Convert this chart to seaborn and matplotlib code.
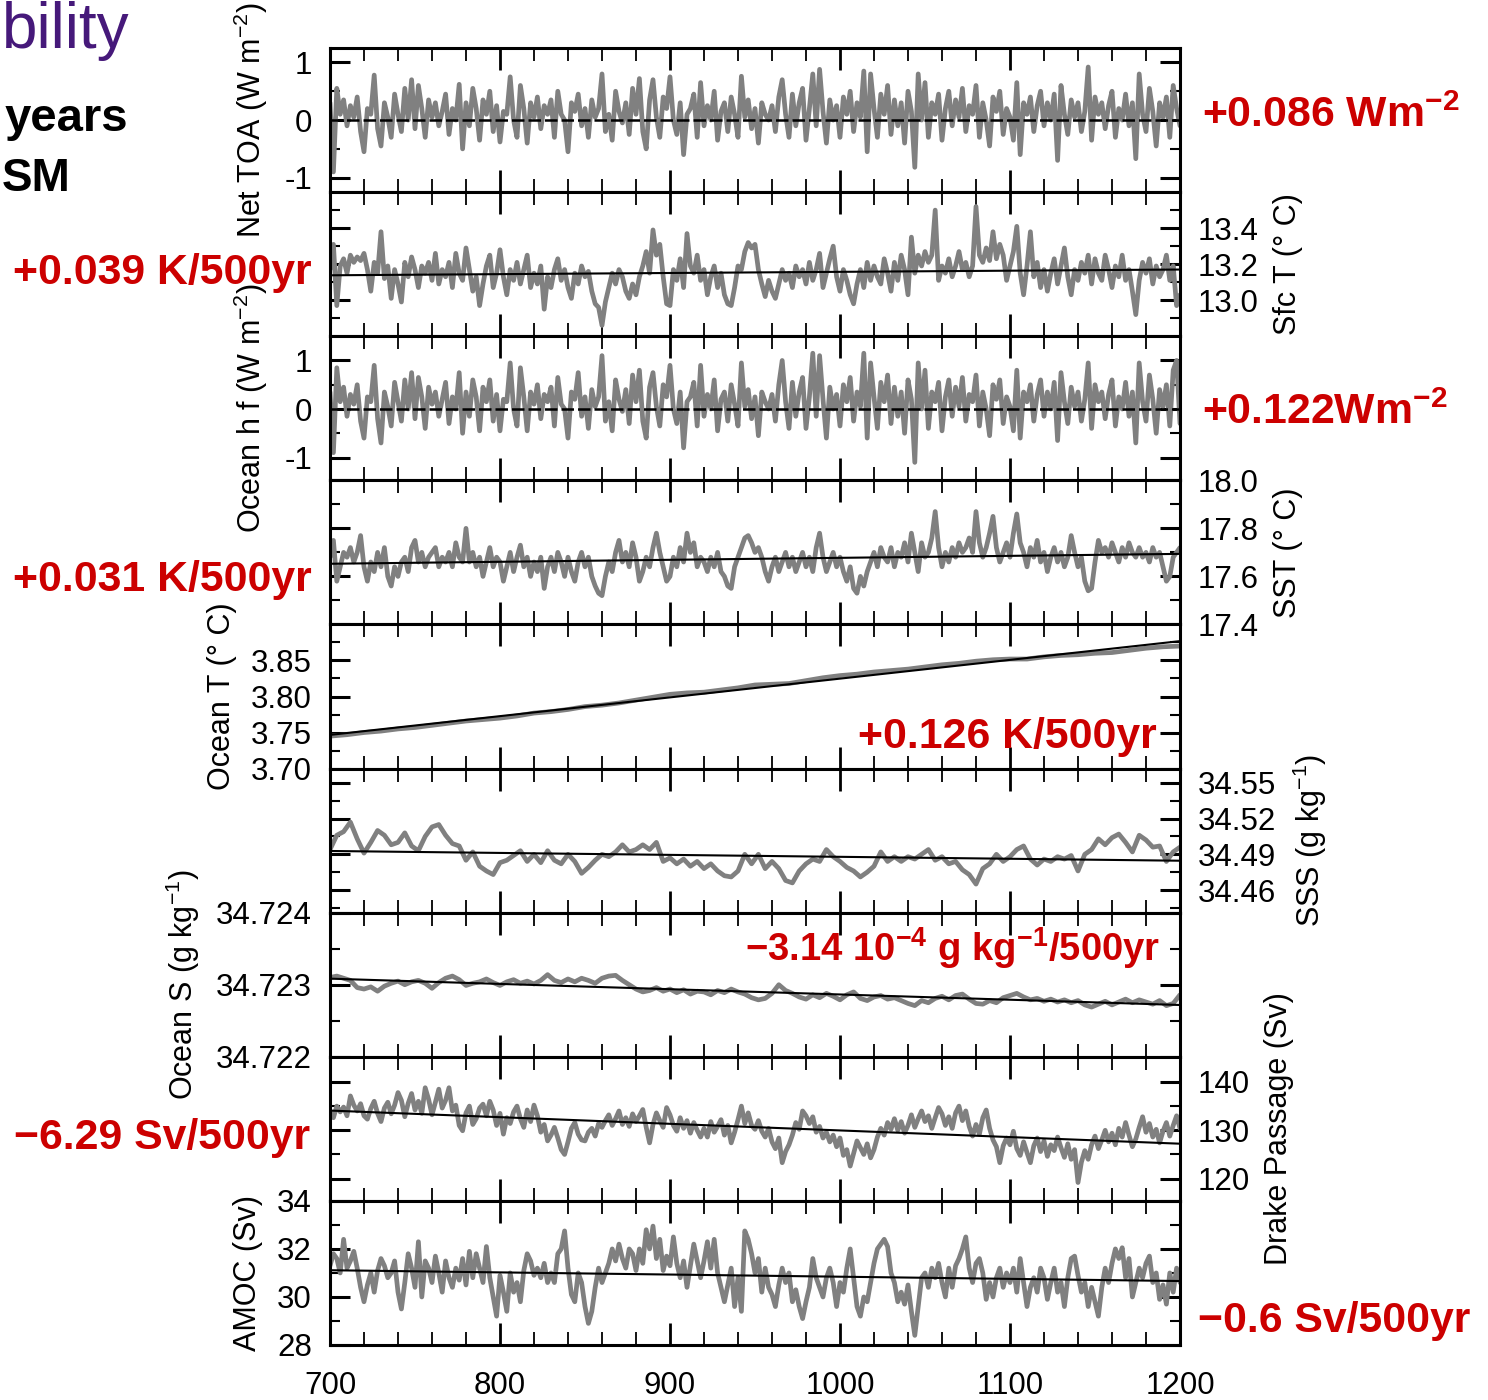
import numpy as np
import matplotlib
matplotlib.use('Agg')
import matplotlib.pyplot as plt
from matplotlib.ticker import FixedLocator, FormatStrFormatter, MultipleLocator
import seaborn as sns

# values, years 700-1200 (evenly spaced samples)
net_toa = [
    0.3, -0.9, 0.55, 0.1, 0.35, -0.1, 0.25, 0.05, 0.4, -0.2,
    -0.55, 0.2, 0.1, 0.78, -0.15, -0.45, 0.3, 0.05, -0.3, 0.45,
    0.1, -0.2, 0.55, 0.0, 0.7, -0.15, 0.6, 0.2, -0.3, 0.35,
    0.05, 0.3, -0.1, 0.15, 0.45, -0.25, 0.2, 0.0, 0.62, -0.5,
    0.3, -0.1, 0.55, 0.2, -0.35, 0.35, 0.1, 0.5, -0.2, 0.25,
    -0.38, 0.15, 0.1, 0.75, 0.0, -0.3, 0.6, 0.2, -0.4, 0.3,
    0.05, 0.4, -0.15, 0.25, 0.1, 0.35, -0.3, 0.5, 0.1, 0.0,
    -0.55, 0.3, 0.15, 0.45, -0.1, 0.2, -0.3, 0.35, 0.05, 0.2,
    0.8, -0.2, 0.1, -0.35, 0.5, 0.15, -0.05, 0.3, -0.25, 0.55,
    0.1, 0.72, -0.2, -0.5, 0.35, 0.7, 0.05, -0.3, 0.4, 0.2,
    0.75, 0.0, -0.25, 0.3, -0.6, 0.1, 0.2, 0.45, -0.3, 0.65,
    -0.1, 0.25, 0.0, 0.5, -0.35, 0.15, 0.3, -0.2, 0.4, 0.1,
    -0.3, 0.76, 0.05, 0.35, -0.15, 0.2, -0.4, 0.3, 0.1, 0.0,
    0.25, -0.2, 0.4, 0.7, 0.1, -0.3, 0.45, -0.1, 0.3, 0.55,
    -0.35, 0.2, 0.8, -0.1, 0.88, 0.15, -0.4, 0.35, 0.0, 0.25,
    -0.3, 0.4, 0.1, 0.5, -0.2, 0.3, 0.05, 0.85, -0.55, 0.8,
    0.2, -0.3, 0.45, 0.1, 0.6, -0.25, 0.35, -0.1, 0.3, -0.4,
    0.5, 0.15, -0.82, 0.8, 0.0, 0.65, -0.3, 0.3, 0.1, 0.45,
    -0.35, 0.2, 0.5, -0.1, 0.35, 0.05, 0.55, -0.2, 0.25, 0.1,
    0.6, -0.3, 0.3, 0.0, -0.45, 0.4, 0.15, 0.5, -0.25, 0.2,
    0.05, -0.35, 0.65, -0.6, 0.3, 0.1, 0.4, -0.2, 0.25, 0.5,
    -0.1, 0.3, 0.0, 0.45, -0.7, 0.6, 0.1, -0.25, 0.35, 0.05,
    0.3, -0.2, 0.15, 0.92, -0.35, 0.4, 0.1, 0.3, -0.15, 0.25,
    0.5, -0.3, 0.2, 0.0, 0.45, -0.1, 0.3, -0.67, 0.8, 0.1,
    -0.2, 0.55, 0.15, -0.45, 0.3, 0.05, 0.4, -0.3, 0.6, 0.2,
    -0.1]

sfc_t = [
    13.17, 13.31, 12.97, 13.19, 13.23, 13.15, 13.25, 13.21, 13.24, 13.22,
    13.26, 13.17, 13.05, 13.21, 13.15, 13.38, 13.12, 13.19, 13.01, 13.17,
    13.09, 12.99, 13.21, 13.13, 13.24, 13.17, 13.07, 13.19, 13.15, 13.21,
    13.11, 13.26, 13.09, 13.17, 13.13, 13.21, 13.07, 13.26, 13.15, 13.11,
    13.29, 13.17, 13.05, 13.13, 12.97, 13.09, 13.19, 13.25, 13.07, 13.15,
    13.28, 13.13, 13.03, 13.17, 13.11, 13.21, 13.09, 13.17, 13.25, 13.07,
    13.15, 13.09, 13.19, 12.95, 13.13, 13.07, 13.17, 13.23, 13.11, 13.17,
    13.07, 13.01, 13.15, 13.09, 13.19, 13.13, 13.16, 13.05, 12.98, 12.96,
    12.86, 12.99, 13.07, 13.15, 13.09, 13.17, 13.13, 13.05, 13.01, 13.09,
    13.03, 13.13, 13.19, 13.27, 13.15, 13.39, 13.25, 13.31, 13.13, 12.98,
    12.97, 13.17, 13.11, 13.23, 13.07, 13.37, 13.19, 13.15, 13.25, 13.11,
    13.17, 13.03, 13.13, 13.19, 13.07, 13.15, 13.03, 12.98, 12.97, 13.07,
    13.19, 13.17, 13.27, 13.32, 13.29, 13.31, 13.17, 13.09, 13.02, 13.11,
    13.05, 13.01, 13.09, 13.17, 13.11, 13.15, 13.07, 13.19, 13.13, 13.17,
    13.09, 13.21, 13.11, 13.17, 13.26, 13.07, 13.15, 13.23, 13.30, 13.13,
    13.05, 13.17, 13.11, 13.03, 12.98, 13.09, 13.17, 13.07, 13.21, 13.11,
    13.19, 13.13, 13.09, 13.23, 13.15, 13.05, 13.21, 13.11, 13.25, 13.17,
    13.03, 13.35, 13.15, 13.25, 13.19, 13.27, 13.21, 13.25, 13.50, 13.11,
    13.19, 13.15, 13.23, 13.13, 13.19, 13.27, 13.17, 13.21, 13.13, 13.19,
    13.52, 13.25, 13.21, 13.29, 13.22, 13.38, 13.23, 13.31, 13.25, 13.11,
    13.19, 13.27, 13.41, 13.15, 13.03, 13.19, 13.38, 13.13, 13.21, 13.07,
    13.17, 13.05, 13.15, 13.23, 13.09, 13.19, 13.29, 13.13, 13.03, 13.17,
    13.11, 13.21, 13.15, 13.25, 13.09, 13.23, 13.15, 13.11, 13.25, 13.17,
    13.07, 13.19, 13.13, 13.25, 13.11, 13.17, 13.05, 12.92, 13.11, 13.21,
    13.15, 13.23, 13.09, 13.19, 13.13, 13.17, 13.25, 13.11, 13.19, 12.97,
    13.03]

ocean_hf = [
    0.35, -0.9, 0.85, 0.15, 0.45, -0.15, 0.3, 0.1, 0.5, -0.25,
    -0.6, 0.25, 0.15, 0.9, -0.2, -0.7, 0.35, 0.05, -0.35, 0.55,
    0.15, -0.25, 0.6, 0.0, 0.75, -0.2, 0.65, 0.25, -0.4, 0.45,
    0.1, 0.35, -0.15, 0.2, 0.55, -0.3, 0.25, 0.0, 0.75, -0.5,
    0.35, -0.15, 0.6, 0.25, -0.45, 0.45, 0.15, 0.6, -0.25, 0.3,
    -0.45, 0.2, 0.15, 0.95, 0.0, -0.35, 0.85, 0.25, -0.45, 0.35,
    0.1, 0.5, -0.2, 0.3, 0.15, 0.45, -0.35, 0.65, 0.1, 0.0,
    -0.6, 0.35, 0.2, 0.75, -0.15, 0.25, -0.4, 0.4, 0.05, 0.25,
    1.1, -0.25, 0.15, -0.45, 0.6, 0.2, -0.05, 0.4, -0.3, 0.7,
    0.15, 0.8, -0.25, -0.6, 0.45, 0.75, 0.05, -0.35, 0.5, 0.25,
    0.9, 0.0, -0.3, 0.35, -0.8, 0.15, 0.25, 0.55, -0.35, 0.9,
    -0.15, 0.3, 0.0, 0.6, -0.45, 0.2, 0.35, -0.25, 0.5, 0.1,
    -0.35, 0.95, 0.05, 0.4, -0.2, 0.25, -0.55, 0.35, 0.15, 0.0,
    0.3, -0.25, 0.5, 1.0, 0.15, -0.4, 0.55, -0.15, 0.35, 0.65,
    -0.4, 0.25, 1.15, -0.15, 1.1, 0.2, -0.6, 0.45, 0.0, 0.3,
    -0.35, 0.5, 0.15, 0.65, -0.25, 0.35, 0.05, 1.15, -0.6, 0.95,
    0.25, -0.4, 0.55, 0.15, 0.7, -0.3, 0.45, -0.15, 0.35, -0.5,
    0.6, 0.2, -1.1, 0.95, 0.0, 0.8, -0.4, 0.35, 0.15, 0.55,
    -0.45, 0.25, 0.6, -0.15, 0.45, 0.05, 0.65, -0.25, 0.3, 0.15,
    0.7, -0.35, 0.35, 0.0, -0.55, 0.5, 0.2, 0.6, -0.3, 0.25,
    0.05, -0.45, 0.8, -0.6, 0.35, 0.15, 0.5, -0.25, 0.3, 0.6,
    -0.15, 0.35, 0.0, 0.55, -0.65, 0.75, 0.15, -0.3, 0.45, 0.05,
    0.35, -0.25, 0.2, 0.95, -0.4, 0.5, 0.15, 0.35, -0.2, 0.3,
    0.6, -0.35, 0.25, 0.0, 0.55, -0.15, 0.35, -0.7, 0.95, 0.15,
    -0.25, 0.7, 0.2, -0.5, 0.4, 0.05, 0.5, -0.35, 0.8, 1.0,
    -0.3]

sst = [
    17.68, 17.75, 17.58, 17.64, 17.70, 17.68, 17.72, 17.66, 17.70, 17.77,
    17.64, 17.58, 17.66, 17.62, 17.70, 17.64, 17.72, 17.60, 17.56, 17.64,
    17.60, 17.66, 17.68, 17.62, 17.72, 17.75, 17.66, 17.70, 17.64, 17.68,
    17.70, 17.72, 17.64, 17.68, 17.66, 17.70, 17.64, 17.74, 17.68, 17.66,
    17.80, 17.66, 17.70, 17.64, 17.68, 17.60, 17.66, 17.72, 17.64, 17.68,
    17.66, 17.58, 17.64, 17.70, 17.62, 17.68, 17.73, 17.64, 17.68, 17.60,
    17.66, 17.62, 17.68, 17.55, 17.64, 17.68, 17.62, 17.70, 17.66, 17.60,
    17.68, 17.62, 17.58, 17.66, 17.70, 17.64, 17.68, 17.60, 17.56, 17.53,
    17.52, 17.60, 17.66, 17.62, 17.70, 17.75, 17.66, 17.70, 17.64, 17.74,
    17.68, 17.58, 17.62, 17.68, 17.64, 17.72, 17.78, 17.70, 17.64, 17.58,
    17.60, 17.68, 17.64, 17.72, 17.66, 17.78, 17.70, 17.74, 17.64, 17.68,
    17.66, 17.62, 17.68, 17.64, 17.70, 17.62, 17.60, 17.56, 17.55, 17.64,
    17.68, 17.72, 17.76, 17.77, 17.74, 17.70, 17.72, 17.68, 17.62, 17.58,
    17.64, 17.68, 17.62, 17.66, 17.70, 17.64, 17.68, 17.62, 17.66, 17.70,
    17.64, 17.68, 17.62, 17.72, 17.78, 17.68, 17.62, 17.66, 17.70, 17.64,
    17.68, 17.62, 17.58, 17.64, 17.55, 17.53, 17.60, 17.56, 17.62, 17.66,
    17.70, 17.64, 17.72, 17.68, 17.66, 17.72, 17.64, 17.70, 17.68, 17.74,
    17.66, 17.78, 17.70, 17.62, 17.74, 17.68, 17.70, 17.76, 17.87, 17.72,
    17.64, 17.70, 17.66, 17.72, 17.68, 17.74, 17.70, 17.72, 17.76, 17.70,
    17.87, 17.74, 17.68, 17.72, 17.78, 17.85, 17.72, 17.66, 17.70, 17.74,
    17.68, 17.78, 17.86, 17.74, 17.70, 17.64, 17.72, 17.68, 17.75, 17.66,
    17.70, 17.62, 17.68, 17.72, 17.66, 17.70, 17.64, 17.68, 17.77, 17.70,
    17.64, 17.68, 17.58, 17.54, 17.55, 17.66, 17.75, 17.70, 17.72, 17.68,
    17.74, 17.70, 17.66, 17.72, 17.68, 17.74, 17.70, 17.68, 17.72, 17.68,
    17.70, 17.66, 17.72, 17.68, 17.70, 17.64, 17.58, 17.60, 17.68, 17.70,
    17.72]

ocean_t = [
    3.745, 3.747, 3.750, 3.752, 3.755, 3.757, 3.760, 3.763, 3.766, 3.768,
    3.770, 3.773, 3.777, 3.779, 3.782, 3.786, 3.788, 3.791, 3.795, 3.799,
    3.803, 3.805, 3.806, 3.809, 3.812, 3.816, 3.817, 3.818, 3.822, 3.826,
    3.829, 3.831, 3.834, 3.836, 3.838, 3.841, 3.844, 3.846, 3.849, 3.851,
    3.852, 3.852, 3.855, 3.857, 3.858, 3.860, 3.861, 3.864, 3.867, 3.869,
    3.870]

sss = [
    34.494, 34.506, 34.509, 34.517, 34.503, 34.491, 34.500, 34.510, 34.506, 34.498,
    34.500, 34.508, 34.497, 34.493, 34.505, 34.513, 34.515, 34.506, 34.499, 34.497,
    34.485, 34.492, 34.480, 34.476, 34.473, 34.483, 34.485, 34.489, 34.493, 34.484,
    34.490, 34.483, 34.493, 34.485, 34.482, 34.490, 34.484, 34.474, 34.479, 34.485,
    34.490, 34.488, 34.492, 34.498, 34.492, 34.494, 34.498, 34.494, 34.500, 34.484,
    34.487, 34.482, 34.486, 34.480, 34.484, 34.478, 34.482, 34.476, 34.472, 34.471,
    34.476, 34.490, 34.482, 34.490, 34.478, 34.484, 34.478, 34.468, 34.466, 34.476,
    34.482, 34.486, 34.484, 34.494, 34.488, 34.484, 34.479, 34.476, 34.471, 34.475,
    34.480, 34.492, 34.484, 34.488, 34.484, 34.488, 34.486, 34.490, 34.494, 34.485,
    34.488, 34.482, 34.484, 34.477, 34.473, 34.465, 34.478, 34.482, 34.490, 34.484,
    34.488, 34.494, 34.497, 34.486, 34.481, 34.486, 34.484, 34.488, 34.486, 34.489,
    34.476, 34.490, 34.494, 34.503, 34.498, 34.504, 34.507, 34.500, 34.492, 34.506,
    34.502, 34.496, 34.497, 34.484, 34.492,
    34.496]

ocean_s = [
    34.72310, 34.72312, 34.72309, 34.72306, 34.72296, 34.72294, 34.72297, 34.72291, 34.72298, 34.72302,
    34.72305, 34.72300, 34.72304, 34.72306, 34.72302, 34.72295, 34.72303, 34.72309, 34.72312, 34.72307,
    34.72299, 34.72302, 34.72304, 34.72308, 34.72303, 34.72299, 34.72304, 34.72307, 34.72302, 34.72305,
    34.72301, 34.72306, 34.72314, 34.72306, 34.72303, 34.72308, 34.72304, 34.72309, 34.72306, 34.72302,
    34.72309, 34.72312, 34.72313, 34.72306, 34.72300, 34.72294, 34.72290, 34.72292, 34.72296, 34.72291,
    34.72294, 34.72289, 34.72293, 34.72287, 34.72291, 34.72290, 34.72286, 34.72292, 34.72289, 34.72294,
    34.72290, 34.72287, 34.72282, 34.72279, 34.72281, 34.72288, 34.72300, 34.72292, 34.72288, 34.72283,
    34.72280, 34.72286, 34.72282, 34.72288, 34.72284, 34.72279, 34.72286, 34.72290, 34.72281, 34.72278,
    34.72283, 34.72285, 34.72280, 34.72282, 34.72278, 34.72274, 34.72271, 34.72278, 34.72275, 34.72281,
    34.72284, 34.72279, 34.72285, 34.72287, 34.72280, 34.72274, 34.72273, 34.72278, 34.72275, 34.72282,
    34.72285, 34.72288, 34.72283, 34.72279, 34.72281, 34.72277, 34.72280, 34.72276, 34.72279, 34.72275,
    34.72278, 34.72272, 34.72269, 34.72273, 34.72277, 34.72272, 34.72276, 34.72280, 34.72275, 34.72279,
    34.72276, 34.72273, 34.72278, 34.72271, 34.72274,
    34.72286]

drake = [
    134.0, 132.6, 135.0, 133.8, 134.8, 133.0, 137.1, 135.2, 134.0, 135.5,
    133.0, 132.3, 134.5, 136.0, 133.5, 131.8, 134.6, 135.8, 133.4, 135.2,
    137.8, 136.2, 132.8, 135.6, 137.6, 134.2, 136.0, 133.5, 138.8, 136.4,
    133.2, 135.8, 138.5, 134.6, 136.2, 138.8, 134.0, 135.2, 131.0, 129.9,
    133.6, 135.0, 131.2, 132.4, 134.6, 135.4, 133.0, 136.0, 134.2, 131.0,
    133.5, 129.2, 132.6, 131.4, 133.8, 135.0, 132.4, 130.6, 134.2, 131.8,
    135.2, 133.0, 129.6, 131.2, 127.8, 129.0, 130.6, 128.4, 126.0, 125.0,
    127.6, 130.4, 131.6, 129.2, 128.0, 127.8, 129.6, 130.4, 128.8, 131.4,
    130.6, 132.0, 133.2, 131.0, 132.4, 134.0, 131.2, 132.6, 130.8, 133.4,
    131.8, 133.0, 134.3, 130.6, 127.4, 131.2, 133.6, 132.0, 130.6, 134.7,
    133.2, 131.0, 129.8, 132.6, 130.4, 132.0, 129.4, 131.6, 130.0, 128.6,
    130.4, 128.6, 131.8, 129.6, 130.8, 132.2, 129.0, 131.0, 127.4, 129.6,
    132.2, 135.0, 131.4, 133.6, 131.0, 130.2, 132.0, 129.8, 128.6, 130.4,
    127.6, 126.2, 128.4, 123.3, 125.6, 127.0, 129.0, 131.6, 130.2, 134.0,
    133.0, 131.4, 132.8, 129.6, 130.8, 128.4, 129.6, 127.6, 129.0, 126.6,
    128.4, 124.8, 126.0, 122.6, 125.2, 127.8, 126.4, 125.0, 127.2, 124.3,
    126.0, 128.6, 130.4, 129.0, 131.6, 130.2, 132.4, 130.0, 131.8, 129.4,
    131.0, 133.2, 130.6, 132.4, 134.0, 131.8, 133.0, 130.4, 132.6, 134.7,
    133.4, 131.0, 132.8, 130.4, 133.6, 135.0, 132.0, 134.0, 130.8, 128.8,
    131.2, 129.2, 132.6, 134.2, 130.4, 128.0, 126.6, 123.3, 126.8, 128.4,
    127.0, 129.8, 126.2, 124.8, 127.6, 125.4, 123.3, 126.8, 128.4, 125.6,
    127.8, 124.6, 127.0, 125.8, 128.6, 126.4, 124.4, 127.2, 124.0, 126.0,
    119.2, 123.4, 125.8, 124.0, 127.0, 128.8, 126.2, 128.0, 130.0, 127.6,
    129.4, 127.0, 130.4, 128.6, 131.6, 129.0, 126.6, 128.2, 130.6, 132.8,
    129.6, 131.4, 128.6, 130.2, 127.4, 129.8, 131.6, 128.8, 131.0, 133.0,
    130.4]

amoc = [
    31.3, 31.8, 31.6, 31.0, 32.4, 31.2, 31.5, 31.9, 31.2, 30.4,
    29.8, 30.5, 31.0, 30.2, 31.1, 31.6, 31.3, 30.8, 31.0, 31.5,
    30.2, 29.5, 30.6, 31.8, 31.2, 30.4, 32.3, 30.0, 31.5, 31.2,
    30.6, 31.7, 31.0, 30.2, 31.5, 30.8, 30.4, 31.2, 30.7, 31.6,
    30.5, 31.9, 30.8, 31.8, 31.2, 30.6, 32.1, 30.8, 30.0, 29.2,
    30.9, 30.2, 29.4, 31.0, 30.2, 30.6, 29.8, 31.1, 31.8, 31.5,
    30.9, 31.2, 30.8, 31.4, 30.6, 31.0, 30.6, 31.8, 32.0, 32.75,
    31.2, 30.1, 29.8, 31.0, 30.6, 29.6, 28.9, 29.4, 30.4, 31.2,
    30.6, 31.0, 31.4, 32.0, 31.5, 32.2, 31.6, 31.2, 32.0, 31.8,
    31.1, 32.0, 31.4, 32.8, 32.0, 32.95, 31.6, 32.4, 31.1, 31.7,
    31.3, 32.5, 31.4, 30.8, 31.5, 30.4, 31.3, 32.2, 31.5, 30.8,
    31.5, 32.3, 31.2, 32.4, 31.0, 30.4, 29.8, 30.5, 31.2, 29.6,
    30.8, 29.4, 32.75, 32.4, 31.8, 31.0, 31.6, 30.2, 31.2, 30.4,
    30.1, 29.6, 30.5, 31.2, 30.6, 31.0, 29.8, 30.3, 29.6, 29.1,
    29.8, 30.4, 31.6, 30.8, 30.4, 30.0, 30.8, 31.2, 30.6, 29.6,
    30.6, 30.2, 31.2, 32.0, 30.8, 29.6, 29.2, 30.0, 29.8, 30.6,
    31.4, 32.0, 32.2, 32.4, 32.1, 31.0, 30.6, 29.8, 30.2, 29.7,
    30.5, 29.4, 28.4, 29.6, 30.8, 31.0, 30.4, 31.2, 30.8, 31.4,
    30.6, 30.0, 31.2, 30.4, 31.3, 31.6, 32.0, 32.5, 31.2, 30.6,
    31.4, 31.6, 31.0, 29.9, 30.6, 30.0, 30.8, 31.2, 30.4, 31.0,
    30.6, 31.2, 30.2, 31.6, 30.6, 29.6, 30.4, 30.8, 30.2, 31.2,
    30.8, 29.9, 30.6, 31.2, 30.2, 30.6, 29.6, 30.8, 31.6, 31.7,
    30.9, 30.2, 30.6, 29.6, 30.4, 29.8, 29.2, 30.4, 31.2, 30.6,
    31.4, 32.0, 31.6, 32.05, 30.8, 31.6, 30.0, 30.6, 31.2, 30.8,
    31.4, 31.7, 30.6, 31.0, 29.9, 30.5, 29.7, 31.0, 30.2, 31.2,
    30.6]

x_ticks = [700, 800, 900, 1000, 1100, 1200]

sns.set_style('ticks')
plt.rcParams['font.family'] = ['Liberation Sans', 'DejaVu Sans']
plt.rcParams['mathtext.fontset'] = 'custom'
plt.rcParams['mathtext.rm'] = 'Liberation Sans'
plt.rcParams['mathtext.it'] = 'Liberation Sans:italic'
plt.rcParams['mathtext.bf'] = 'Liberation Sans:bold'
plt.rcParams['axes.unicode_minus'] = False
for key in ['text.color', 'axes.labelcolor', 'xtick.color', 'ytick.color', 'axes.edgecolor']:
    plt.rcParams[key] = 'black'

W, H = 1488, 1400
fig, axes = plt.subplots(9, 1, sharex=True, figsize=(W / 100, H / 100), dpi=100)
fig.subplots_adjust(left=330 / W, right=1180 / W, top=1 - 48 / H, bottom=1 - 1345 / H, hspace=0)

# series, label, side of labels, ylim, major ticks, minor ticks, format, zero line?
panels = [
    (net_toa, 'Net TOA (W m$^{-2}$)', 'left', (-1.25, 1.25), [-1, 0, 1], [-0.5, 0.5], '%g', True),
    (sfc_t, 'Sfc T (° C)', 'right', (12.8, 13.6), [13.0, 13.2, 13.4], [12.9, 13.1, 13.3, 13.5], '%.1f', False),
    (ocean_hf, 'Ocean h f (W m$^{-2}$)', 'left', (-1.47, 1.5), [-1, 0, 1], [-0.5, 0.5], '%g', True),
    (sst, 'SST (° C)', 'right', (17.4, 18.0), [17.4, 17.6, 17.8, 18.0], [17.5, 17.7, 17.9], '%.1f', False),
    (ocean_t, 'Ocean T (° C)', 'left', (3.70, 3.90), [3.70, 3.75, 3.80, 3.85], [3.725, 3.775, 3.825, 3.875], '%.2f', False),
    (sss, 'SSS (g kg$^{-1}$)', 'right', (34.441, 34.562), [34.46, 34.49, 34.52, 34.55], [34.445, 34.475, 34.505, 34.535], '%.2f', False),
    (ocean_s, 'Ocean S (g kg$^{-1}$)', 'left', (34.722, 34.724), [34.722, 34.723, 34.724], [34.7225, 34.7235], '%.3f', False),
    (drake, 'Drake Passage (Sv)', 'right', (115.4, 145.2), [120, 130, 140], [125, 135], '%g', False),
    (amoc, 'AMOC (Sv)', 'left', (28, 34), [28, 30, 32, 34], [29, 31, 33], '%g', False),
]

for ax, (vals, label, side, ylim, major, minor, fmt, zero) in zip(axes, panels):
    yrs = np.linspace(700, 1200, len(vals))
    sns.lineplot(x=yrs, y=vals, ax=ax, color='#808080', linewidth=3.4, zorder=2)
    if zero:
        ax.axhline(0, color='black', linewidth=1.8, linestyle=(0, (5, 1.6)), zorder=3)
    else:
        sns.regplot(x=yrs, y=np.array(vals), ax=ax, scatter=False, ci=None, truncate=True,
                    line_kws=dict(color='black', linewidth=1.5, zorder=3))
    ax.set_ylim(*ylim)
    ax.yaxis.set_major_locator(FixedLocator(major))
    ax.yaxis.set_minor_locator(FixedLocator(minor))
    ax.yaxis.set_major_formatter(FormatStrFormatter(fmt))
    ax.set_xlabel('')
    ax.set_ylabel(label, fontsize=22, labelpad=10, color='black')
    ax.tick_params(which='both', direction='in', top=True, bottom=True, left=True, right=True,
                   labelsize=22.5, pad=13, colors='black')
    ax.tick_params(axis='x', which='major', length=16, width=2)
    ax.tick_params(axis='x', which='minor', length=9.5, width=1.3)
    ax.tick_params(axis='y', which='major', length=14.5, width=2.2)
    ax.tick_params(axis='y', which='minor', length=7, width=1.5)
    if side == 'right':
        ax.yaxis.set_label_position('right')
        ax.tick_params(axis='y', labelleft=False, labelright=True)
    for sp in ax.spines.values():
        sp.set_linewidth(2.2)
        sp.set_color('black')

axes[-1].set_xlim(700, 1200)
axes[-1].xaxis.set_major_locator(FixedLocator(x_ticks))
axes[-1].xaxis.set_minor_locator(MultipleLocator(20))
axes[-1].xaxis.set_major_formatter(FormatStrFormatter('%d'))
axes[-1].tick_params(axis='x', labelsize=22.5, pad=19)


def px(x, y):
    return x / W, 1 - y / H


red = '#cc0000'
big = dict(color=red, fontsize=30.8, fontweight='bold', va='baseline')
fig.text(*px(1202, 127), r'+0.086 Wm$^{\mathbf{-2}}$', ha='left', **big)
fig.text(*px(312, 284), '+0.039 K/500yr', ha='right', **big)
fig.text(*px(1202, 424), r'+0.122Wm$^{\mathbf{-2}}$', ha='left', **big)
fig.text(*px(312, 591), '+0.031 K/500yr', ha='right', **big)
fig.text(*px(1157, 748), '+0.126 K/500yr', ha='right', **big)
fig.text(*px(1160, 961), r'$\mathbf{-}$3.14 10$^{\mathbf{-4}}$ g kg$^{\mathbf{-1}}$/500yr',
         ha='right', color=red, fontsize=27.5, fontweight='bold', va='baseline')
fig.text(*px(310, 1149), '\u22126.29 Sv/500yr', ha='right', **big)
fig.text(*px(1198, 1332), '\u22120.6 Sv/500yr', ha='left', **big)

# slide text at the top left
fig.text(*px(2, 48), 'bility', ha='left', va='baseline', color='#46197a', fontsize=46)
fig.text(*px(128, 131), 'years', ha='right', va='baseline', color='black', fontsize=34, fontweight='bold')
fig.text(*px(2, 191), 'SM', ha='left', va='baseline', color='black', fontsize=33, fontweight='bold')

fig.savefig('out.png', dpi=100)
